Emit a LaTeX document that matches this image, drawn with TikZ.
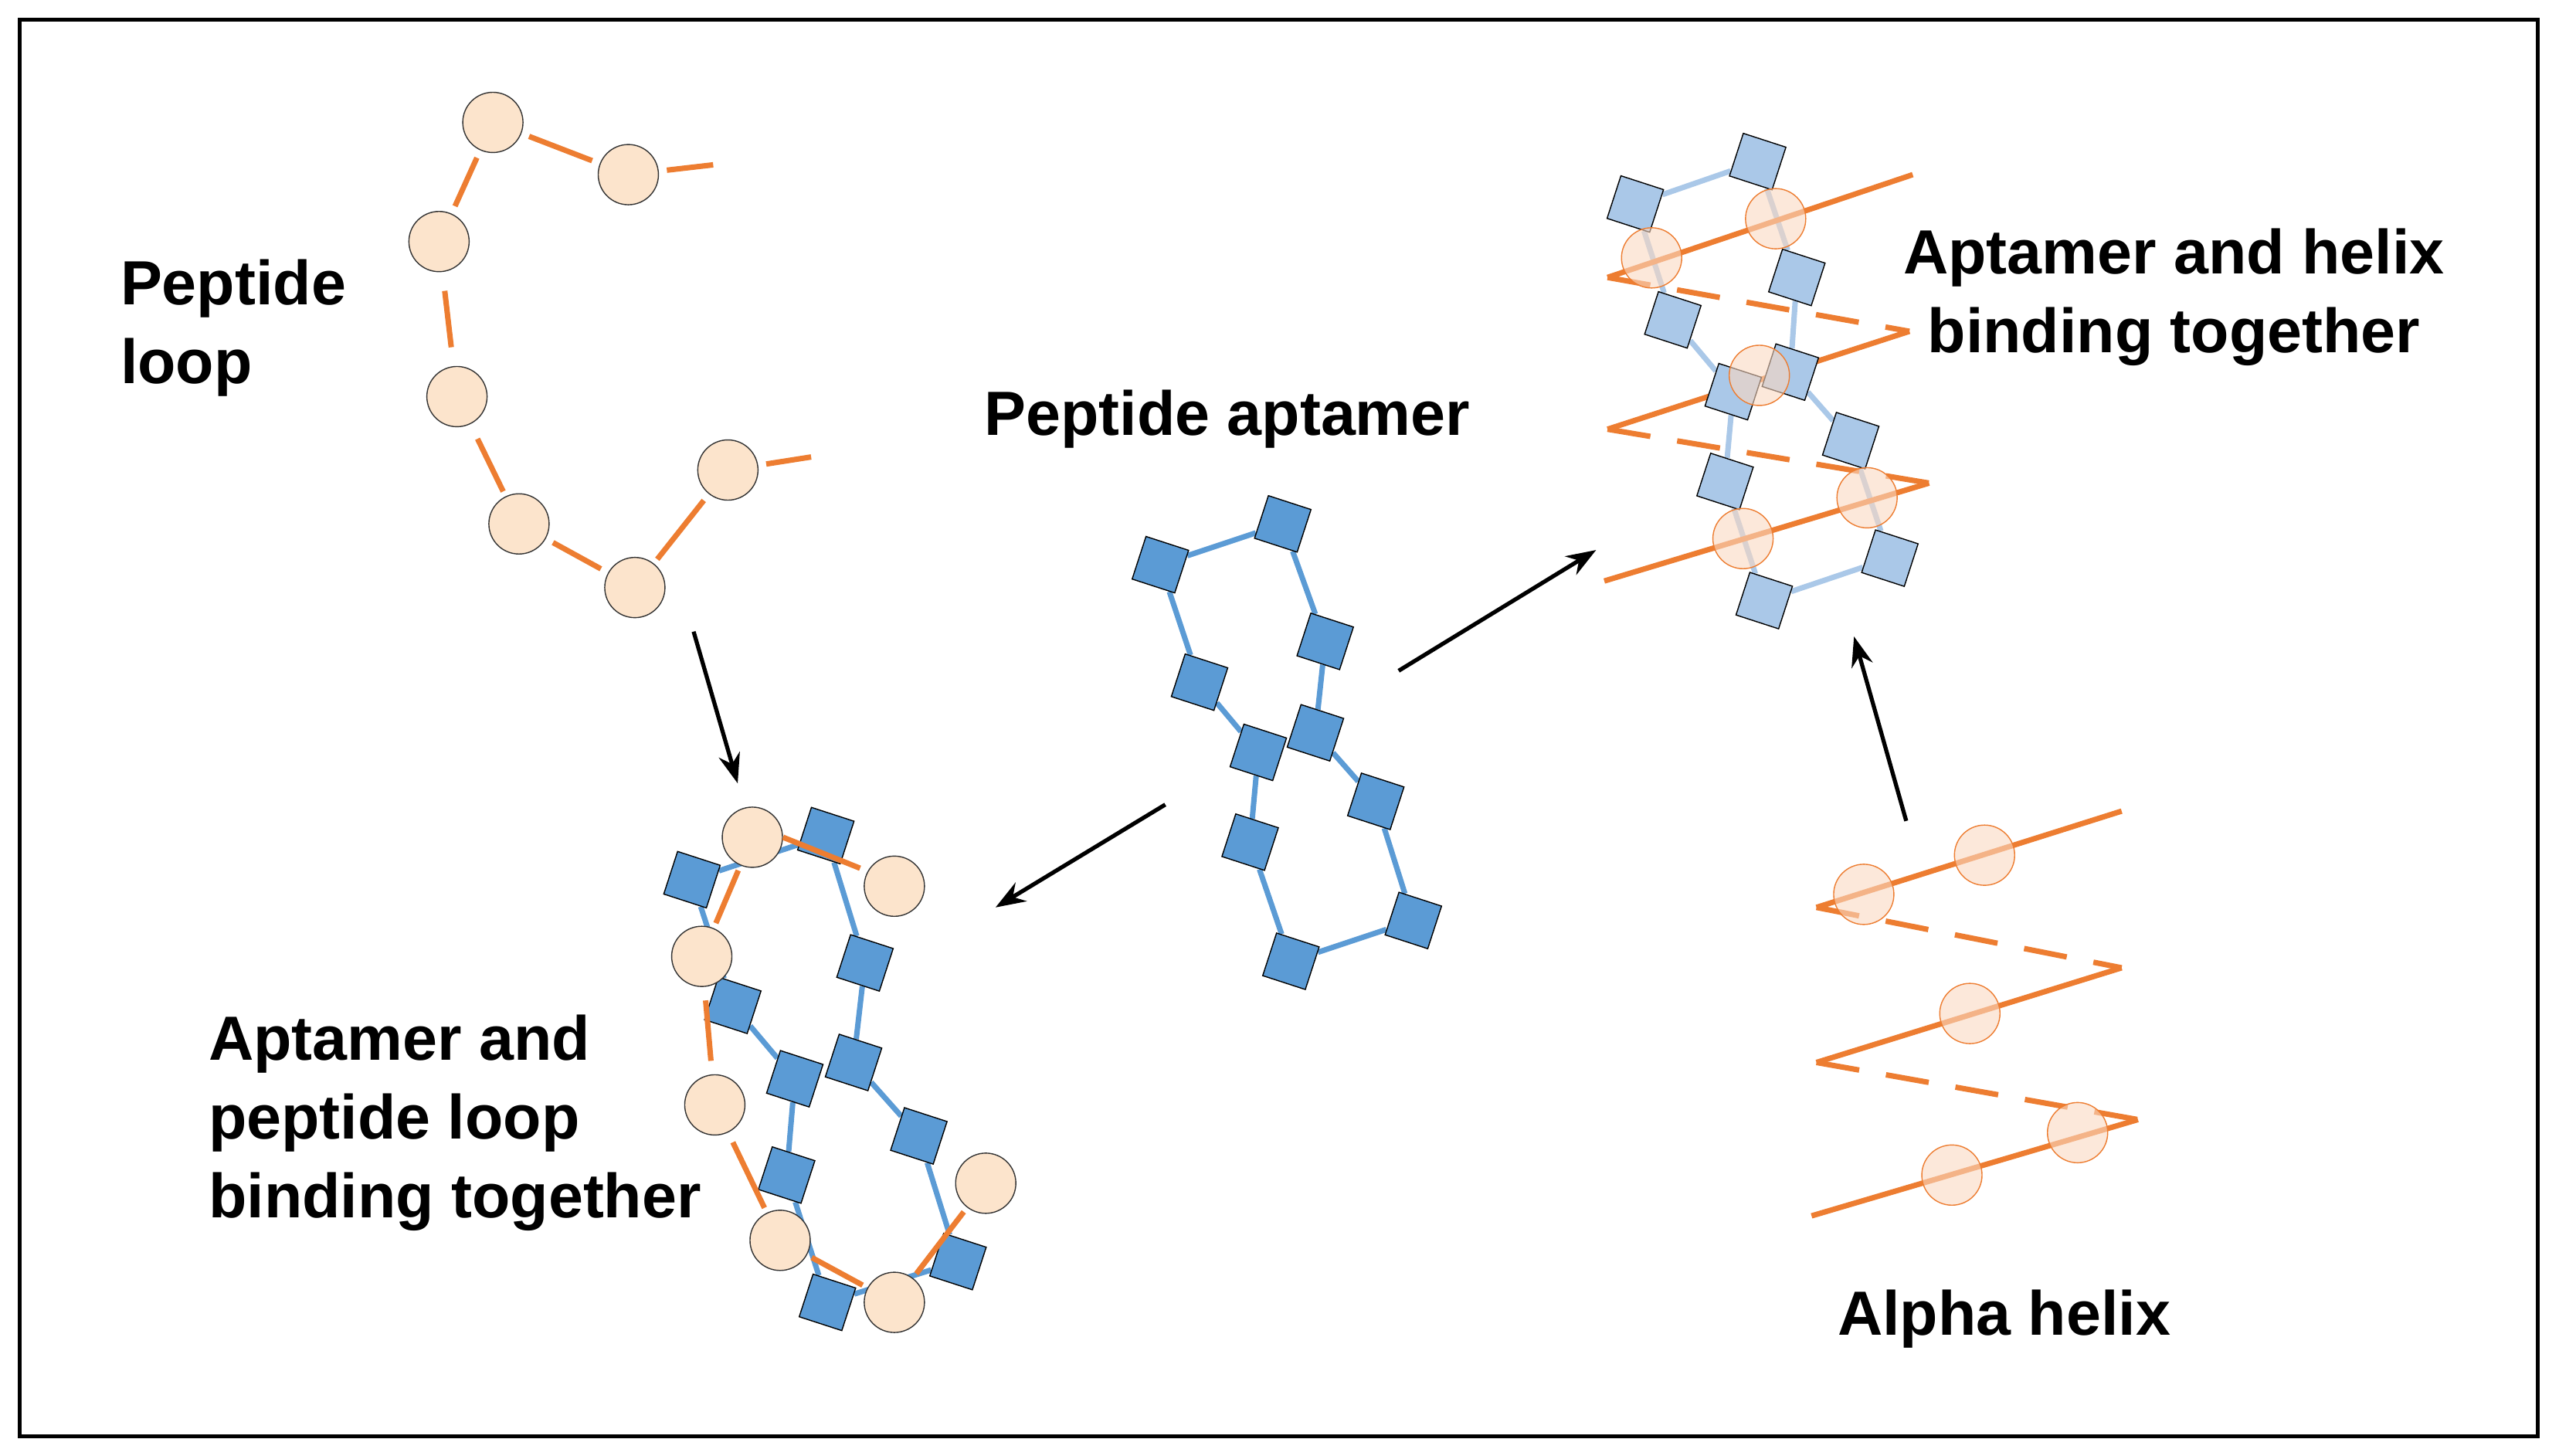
\documentclass[tikz,border=0pt]{standalone}
\usepackage{fontspec}
\setmainfont{Liberation Sans}
\usetikzlibrary{arrows.meta}
\pgfdeclarelayer{bg}
\pgfsetlayers{bg,main}
\definecolor{og}{RGB}{237,125,49}
\definecolor{pe}{RGB}{252,228,204}
\definecolor{bl}{RGB}{91,155,213}
\definecolor{lb}{RGB}{170,200,232}
\tikzstyle{pep}=[circle, draw=black!80, fill=pe, minimum size=0.78cm, inner sep=0pt, thin]
\tikzstyle{hpep}=[circle, draw=og, fill=og!30, fill opacity=0.6, minimum size=0.78cm, inner sep=0pt, thin]
\tikzstyle{apt}=[rectangle, draw=black, fill=bl, minimum size=0.58cm, inner sep=0pt, rotate=-18, thin]
\tikzstyle{lapt}=[apt, fill=lb]
\tikzstyle{ol}=[draw=og, line width=2pt]
\tikzstyle{bll}=[draw=bl, line width=2pt]
\tikzstyle{lbl}=[draw=lb, line width=2pt]
\tikzstyle{dsh}=[dash pattern=on 16pt off 10pt]
\tikzstyle{go}=[-{Stealth[length=11pt,width=8pt]}, line width=1.5pt]
\tikzstyle{lab}=[font=\fontsize{23}{29}\selectfont\bfseries, align=left]

\begin{document}
\begin{tikzpicture}[x=0.02113cm, y=-0.02113cm]
\useasboundingbox (0,0) rectangle (1568,892);
\draw[line width=1.6pt] (12,12) rectangle (1555,880);

% peptide loop
\node[pep] (p1) at (302,75) {};
\node[pep] (p2) at (385,107) {};
\node[pep] (p3) at (269,148) {};
\node[pep] (p4) at (280,243) {};
\node[pep] (p5) at (318,321) {};
\node[pep] (p6) at (389,360) {};
\node[pep] (p7) at (446,288) {};
\coordinate (pa) at (437,101);
\coordinate (pb) at (497,280);
\draw[ol, shorten <=3pt] (p2) -- (pa);
\draw[ol, shorten <=3pt, shorten >=3pt] (p1) -- (p2);
\draw[ol, shorten <=3pt, shorten >=3pt] (p1) -- (p3);
\draw[ol, shorten <=7pt, shorten >=7pt] (p3) -- (p4);
\draw[ol, shorten <=6pt, shorten >=2pt] (p4) -- (p5);
\draw[ol, shorten <=3pt, shorten >=3pt] (p5) -- (p6);
\draw[ol, shorten <=2pt, shorten >=3pt] (p6) -- (p7);
\draw[ol, shorten <=3pt] (p7) -- (pb);
\node[lab, anchor=west] (tloop) at (68,201) {Peptide\\loop};

% peptide aptamer
\foreach \n/\x/\y in {1/711/346,2/786/321,3/812/393,4/735/418,5/771/461,6/806/449,7/843/491,8/766/516,9/866/564,10/791/589}
  \node[apt] (a\n) at (\x,\y) {};
\begin{pgfonlayer}{bg}
\foreach \i/\j in {1/2,2/3,1/4,4/5,3/6,5/8,6/7,7/9,8/10,10/9}
  \draw[bll] (a\i) -- (a\j);
\end{pgfonlayer}
\node[lab] (tapt) at (752,257) {Peptide aptamer};

% aptamer + loop
\foreach \n/\x/\y in {1/424/539,2/506/512,3/530/590,4/449/616,5/487/661,6/523/651,7/563/696,8/482/720,9/587/773,10/507/798}
  \node[apt] (b\n) at (\x,\y) {};
\begin{pgfonlayer}{bg}
\foreach \i/\j in {1/2,2/3,1/4,4/5,3/6,5/8,6/7,7/9,8/10,10/9}
  \draw[bll] (b\i) -- (b\j);
\end{pgfonlayer}
\foreach \n/\x/\y in {1/461/513,2/548/543,3/430/586,4/438/677,5/478/760,6/548/798,7/604/725}
  \node[pep] (c\n) at (\x,\y) {};
\coordinate (cq) at (527,532);
\draw[ol] (c1.east) -- (cq);
\draw[ol, shorten <=2pt, shorten >=2pt] (c1) -- (c3);
\draw[ol, shorten <=5pt, shorten >=5pt] (c3) -- (c4);
\draw[ol, shorten <=4pt, shorten >=2pt] (c4) -- (c5);
\draw[ol, shorten <=2pt, shorten >=2pt] (c5) -- (c6);
\draw[ol, shorten <=2pt, shorten >=2pt] (c6) -- (c7);
\node[lab, anchor=west] (tab) at (122,688) {Aptamer and\\peptide loop\\binding together};

% alpha helix
\coordinate (h1) at (1300,497);
\coordinate (h2) at (1113,556);
\coordinate (h3) at (1300,593);
\coordinate (h4) at (1113,651);
\coordinate (h5) at (1310,686);
\coordinate (h6) at (1110,745);
\draw[ol] (h1) -- (h2);
\draw[ol, dsh] (h2) -- (h3);
\draw[ol] (h3) -- (h4);
\draw[ol, dsh] (h4) -- (h5);
\draw[ol] (h5) -- (h6);
\foreach \n/\x/\y in {1/1142/548,2/1216/524,3/1207/621,4/1273/694,5/1196/720}
  \node[hpep] (q\n) at (\x,\y) {};
\node[lab] (thel) at (1228,808) {Alpha helix};

% aptamer + helix
\coordinate (k1) at (1172,107);
\coordinate (k2) at (985,170);
\coordinate (k3) at (1170,203);
\coordinate (k4) at (985,263);
\coordinate (k5) at (1182,296);
\coordinate (k6) at (983,356);
\draw[ol] (k1) -- (k2);
\draw[ol, dsh] (k2) -- (k3);
\draw[ol] (k3) -- (k4);
\draw[ol, dsh] (k4) -- (k5);
\foreach \n/\x/\y in {1/1002/125,2/1077/99,3/1101/170,4/1025/196,5/1062/240,6/1097/228,7/1134/270,8/1057/295,9/1158/342,10/1081/368}
  \node[lapt] (d\n) at (\x,\y) {};
\draw[ol] (k5) -- (k6);
\begin{pgfonlayer}{bg}
\foreach \i/\j in {1/2,2/3,1/4,4/5,3/6,5/8,6/7,7/9,8/10,10/9}
  \draw[lbl] (d\i) -- (d\j);
\end{pgfonlayer}
\foreach \n/\x/\y in {1/1012/158,2/1088/134,3/1078/230,4/1144/305,5/1068/330}
  \node[hpep] (r\n) at (\x,\y) {};
\node[lab, align=center] (tah) at (1332,182) {Aptamer and helix\\binding together};

% arrows
\coordinate (e1) at (425,387);
\coordinate (e2) at (452,480);
\coordinate (e3) at (714,493);
\coordinate (e4) at (610,556);
\coordinate (e5) at (857,411);
\coordinate (e6) at (978,337);
\coordinate (e7) at (1168,503);
\coordinate (e8) at (1136,390);
\draw[go] (e1) -- (e2);
\draw[go] (e3) -- (e4);
\draw[go] (e5) -- (e6);
\draw[go] (e7) -- (e8);
\end{tikzpicture}
\end{document}
